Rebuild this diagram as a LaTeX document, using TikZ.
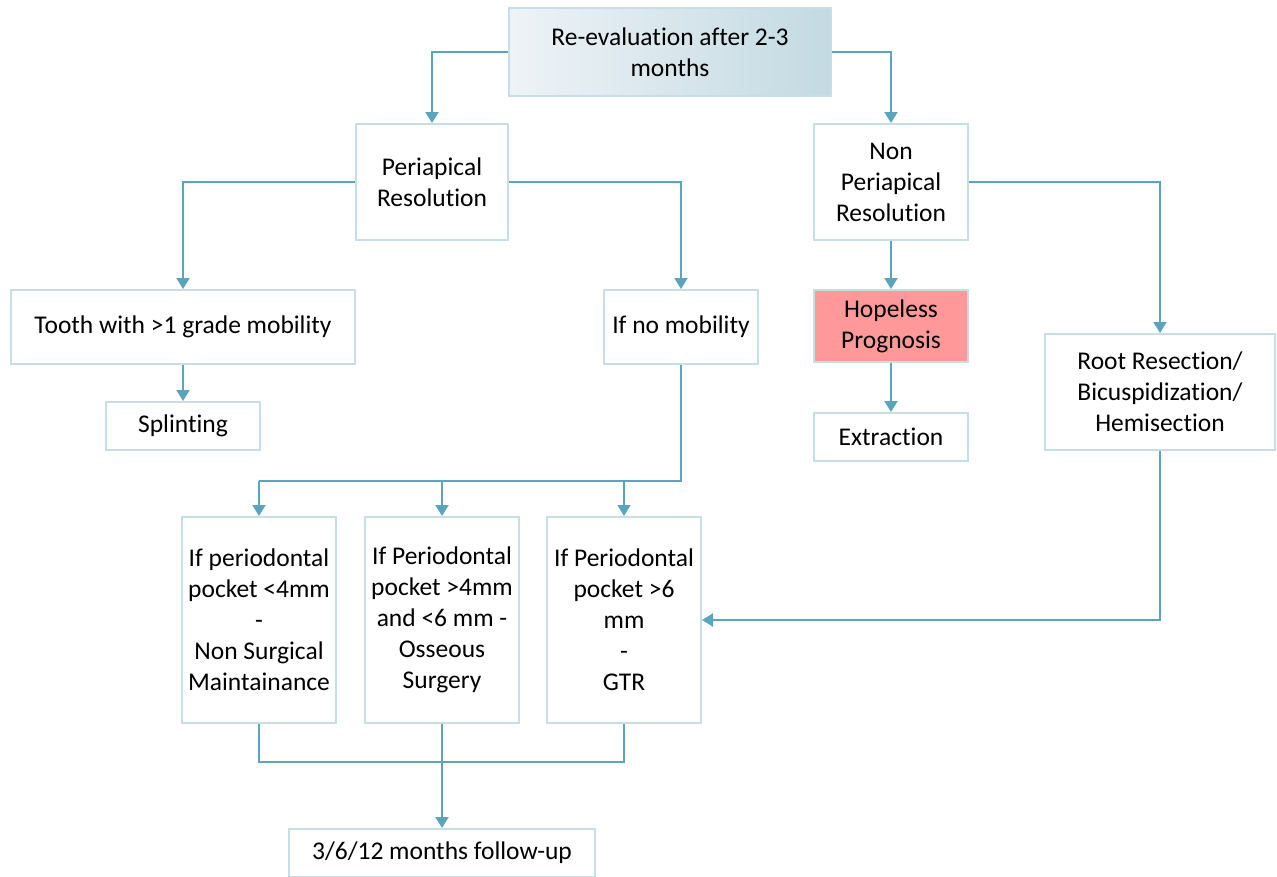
\documentclass[tikz,border=0pt]{standalone}
\usepackage{fontspec}
\setmainfont{Carlito}[Ligatures=NoCommon]
\usetikzlibrary{arrows.meta}
\definecolor{linkblue}{RGB}{91,164,192}
\definecolor{boxline}{RGB}{200,222,230}
\definecolor{hopelessred}{RGB}{255,153,153}
\definecolor{shadeleft}{RGB}{238,243,247}
\definecolor{shaderight}{RGB}{195,218,226}
\tikzset{
  box/.style = {
    draw=boxline, line width=2pt, align=center, inner sep=0pt,
    font=\fontsize{25.5}{31}\selectfont
  },
  link/.style = {draw=linkblue, line width=2pt}
}
\tikzset{>={Triangle[length=11pt,width=13pt]}}

\begin{document}
\begin{tikzpicture}[x=1pt,y=-1pt]
  \useasboundingbox (0,0) rectangle (1277,876);
  % top level
  \node[box,left color=shadeleft,right color=shaderight,
        minimum width=322pt,minimum height=88pt] (reeval) at (670,52)
        {Re-evaluation after 2-3\\months};
  \node[box,minimum width=152pt,minimum height=116pt] (peri) at (432,182)
        {Periapical\\Resolution};
  \node[box,minimum width=154pt,minimum height=116pt] (nonperi) at (891,182)
        {Non\\Periapical\\Resolution};
  % periapical branch
  \node[box,minimum width=344pt,minimum height=74pt] (tooth) at (183,327)
        {Tooth with >1 grade mobility};
  \node[box,minimum width=154pt,minimum height=74pt] (nomob) at (681,327)
        {If no mobility};
  \node[box,minimum width=154pt,minimum height=48pt] (splint) at (183,426)
        {Splinting};
  % non periapical branch
  \node[box,fill=hopelessred,minimum width=154pt,minimum height=72pt] (hopeless) at (891,326)
        {Hopeless\\Prognosis};
  \node[box,minimum width=154pt,minimum height=48pt] (extract) at (891,437)
        {Extraction};
  \node[box,minimum width=230pt,minimum height=116pt] (root) at (1160,392)
        {Root Resection/\\Bicuspidization/\\Hemisection};
  % pockets
  \node[box,minimum width=154pt,minimum height=206pt] (pockA) at (259,620)
        {If periodontal\\pocket <4mm\\-\\Non Surgical\\Maintainance};
  \node[box,minimum width=154pt,minimum height=206pt] (pockB) at (442,620)
        {If Periodontal\\pocket >4mm\\and <6 mm -\\Osseous\\Surgery};
  \node[box,minimum width=154pt,minimum height=206pt] (pockC) at (624,620)
        {If Periodontal\\pocket >6\\mm\\-\\GTR};
  \node[box,minimum width=306pt,minimum height=48pt] (follow) at (442,853)
        {3/6/12 months follow-up};
  \coordinate (split) at (681,481);
  \coordinate (join) at (442,762);
  % connectors
  \draw[link,->] (reeval.west) -| (peri.north);
  \draw[link,->] (reeval.east) -| (nonperi.north);
  \draw[link,->] (peri.west) -| (tooth.north);
  \draw[link,->] (peri.east) -| (nomob.north);
  \draw[link,->] (tooth.south) -- (splint.north);
  \draw[link] (nomob.south) |- (pockA.north |- split);
  \draw[link,->] (pockA.north |- split) -- (pockA.north);
  \draw[link,->] (pockB.north |- split) -- (pockB.north);
  \draw[link,->] (pockC.north |- split) -- (pockC.north);
  \draw[link,->] (nonperi.south) -- (hopeless.north);
  \draw[link,->] (hopeless.south) -- (extract.north);
  \draw[link,->] (nonperi.east) -| (root.north);
  \draw[link,->] (root.south) |- (pockC.east);
  \draw[link] (pockA.south) |- (pockC.south |- join) -- (pockC.south);
  \draw[link,->] (pockB.south) -- (follow.north);
\end{tikzpicture}
\end{document}
